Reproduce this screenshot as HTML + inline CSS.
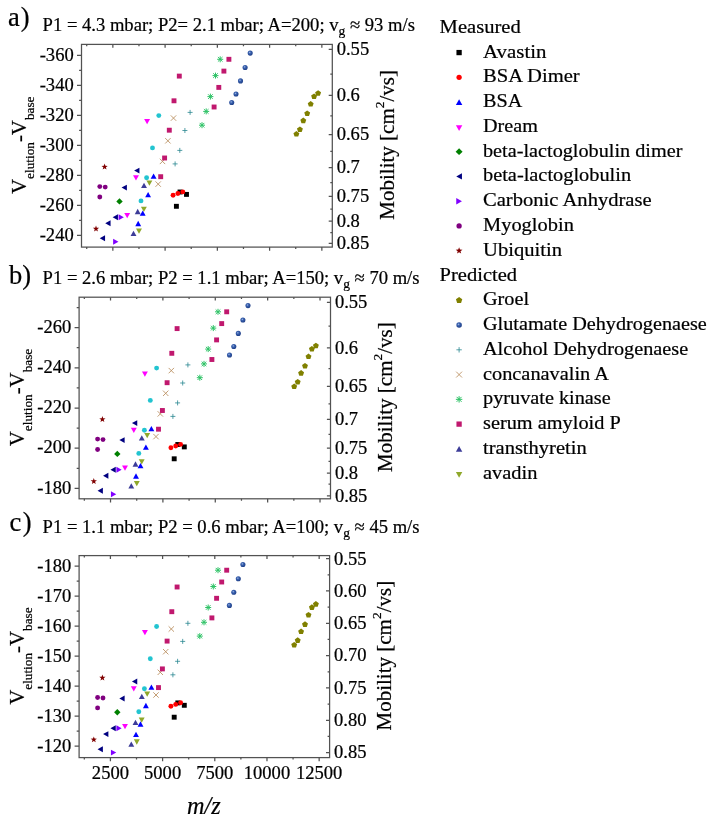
<!DOCTYPE html><html><head><meta charset="utf-8"><style>html,body{margin:0;padding:0;background:#fff;width:714px;height:821px;overflow:hidden}svg{display:block;filter:blur(0.3px)}text{font-family:"Liberation Serif", serif;fill:#000;stroke:#000;stroke-width:0.22px}</style></head><body>
<svg width="714" height="821" viewBox="0 0 714 821">
<defs><radialGradient id="sph" cx="0.4" cy="0.38" r="0.65"><stop offset="0" stop-color="#9fb6e0"/><stop offset="0.35" stop-color="#3a62b0"/><stop offset="1" stop-color="#1c3c84"/></radialGradient></defs>
<rect x="81.5" y="44.4" width="250.80" height="202.70" fill="none" stroke="#525252" stroke-width="1.25"/>
<path d="M77.00 55.40H81.50M77.00 85.40H81.50M77.00 115.40H81.50M77.00 145.40H81.50M77.00 175.40H81.50M77.00 205.40H81.50M77.00 235.40H81.50M79.10 70.40H81.50M79.10 100.40H81.50M79.10 130.40H81.50M79.10 160.40H81.50M79.10 190.40H81.50M79.10 220.40H81.50M328.70 49.40H332.30M328.70 95.40H332.30M328.70 134.50H332.30M328.70 167.50H332.30M328.70 196.30H332.30M328.70 221.10H332.30M328.70 243.40H332.30M330.30 74.20H332.30M330.30 115.80H332.30M330.30 151.40H332.30M330.30 182.60H332.30M330.30 209.10H332.30M330.30 232.50H332.30M86.72 44.40V46.20M86.72 247.10V249.10M112.85 44.40V47.70M112.85 247.10V250.70M138.97 44.40V46.20M138.97 247.10V249.10M165.10 44.40V47.70M165.10 247.10V250.70M191.22 44.40V46.20M191.22 247.10V249.10M217.35 44.40V47.70M217.35 247.10V250.70M243.47 44.40V46.20M243.47 247.10V249.10M269.60 44.40V47.70M269.60 247.10V250.70M295.73 44.40V46.20M295.73 247.10V249.10M321.85 44.40V47.70M321.85 247.10V250.70" stroke="#525252" stroke-width="1.25" fill="none"/>
<text transform="translate(73.70 60.60) scale(1.02 1)" font-size="18.2" text-anchor="end">-360</text>
<text transform="translate(73.70 90.60) scale(1.02 1)" font-size="18.2" text-anchor="end">-340</text>
<text transform="translate(73.70 120.60) scale(1.02 1)" font-size="18.2" text-anchor="end">-320</text>
<text transform="translate(73.70 150.60) scale(1.02 1)" font-size="18.2" text-anchor="end">-300</text>
<text transform="translate(73.70 180.60) scale(1.02 1)" font-size="18.2" text-anchor="end">-280</text>
<text transform="translate(73.70 210.60) scale(1.02 1)" font-size="18.2" text-anchor="end">-260</text>
<text transform="translate(73.70 240.60) scale(1.02 1)" font-size="18.2" text-anchor="end">-240</text>
<text transform="translate(336.70 55.30) scale(1.02 1)" font-size="18.2" text-anchor="start">0.55</text>
<text transform="translate(336.70 101.30) scale(1.02 1)" font-size="18.2" text-anchor="start">0.6</text>
<text transform="translate(336.70 140.40) scale(1.02 1)" font-size="18.2" text-anchor="start">0.65</text>
<text transform="translate(336.70 173.40) scale(1.02 1)" font-size="18.2" text-anchor="start">0.7</text>
<text transform="translate(336.70 202.20) scale(1.02 1)" font-size="18.2" text-anchor="start">0.75</text>
<text transform="translate(336.70 227.00) scale(1.02 1)" font-size="18.2" text-anchor="start">0.8</text>
<text transform="translate(336.70 249.30) scale(1.02 1)" font-size="18.2" text-anchor="start">0.85</text>
<text transform="translate(25.90 145.25) rotate(-90) scale(1.02 1)" font-size="20.5" text-anchor="middle">V<tspan font-size="13" dy="8.2">elution</tspan><tspan dy="-8.2">-V</tspan><tspan font-size="13" dy="8.2">base</tspan></text>
<text transform="translate(393.50 144.85) rotate(-90)" font-size="21" text-anchor="middle">Mobility [cm<tspan font-size="13.5" dy="-10">2</tspan><tspan dy="10">/vs]</tspan></text>
<text x="8.1" y="26.20" font-size="26.5">a<tspan dx="0.9">)</tspan></text>
<text transform="translate(42.6 30.50) scale(1.0 1)" font-size="18.6">P1 = 4.3 mbar; P2= 2.1 mbar; A=200; v<tspan font-size="13.5" dy="4.2">g</tspan><tspan dy="-4.2"> ≈ 93 m/s</tspan></text>
<g>
<circle cx="158.80" cy="115.60" r="2.45" fill="#22c4d0"/>
<circle cx="152.50" cy="147.90" r="2.45" fill="#22c4d0"/>
<circle cx="146.60" cy="177.80" r="2.45" fill="#22c4d0"/>
<circle cx="141.00" cy="200.90" r="2.45" fill="#22c4d0"/>
<polygon points="318.10,90.20 321.05,92.34 319.92,95.81 316.28,95.81 315.15,92.34" fill="#808000"/>
<polygon points="314.10,93.40 317.05,95.54 315.92,99.01 312.28,99.01 311.15,95.54" fill="#808000"/>
<polygon points="310.70,101.00 313.65,103.14 312.52,106.61 308.88,106.61 307.75,103.14" fill="#808000"/>
<polygon points="307.20,110.40 310.15,112.54 309.02,116.01 305.38,116.01 304.25,112.54" fill="#808000"/>
<polygon points="303.30,117.60 306.25,119.74 305.12,123.21 301.48,123.21 300.35,119.74" fill="#808000"/>
<polygon points="299.90,126.40 302.85,128.54 301.72,132.01 298.08,132.01 296.95,128.54" fill="#808000"/>
<polygon points="296.40,131.00 299.35,133.14 298.22,136.61 294.58,136.61 293.45,133.14" fill="#808000"/>
<circle cx="250.20" cy="53.10" r="2.55" fill="url(#sph)"/>
<circle cx="245.10" cy="67.50" r="2.55" fill="url(#sph)"/>
<circle cx="240.50" cy="80.90" r="2.55" fill="url(#sph)"/>
<circle cx="236.00" cy="94.00" r="2.55" fill="url(#sph)"/>
<circle cx="231.70" cy="102.50" r="2.55" fill="url(#sph)"/>
<path d="M187.60 112.40H192.60M190.10 109.90V114.90" stroke="#2a8890" stroke-width="0.8" fill="none"/>
<path d="M182.40 130.50H187.40M184.90 128.00V133.00" stroke="#2a8890" stroke-width="0.8" fill="none"/>
<path d="M177.30 150.40H182.30M179.80 147.90V152.90" stroke="#2a8890" stroke-width="0.8" fill="none"/>
<path d="M172.60 163.90H177.60M175.10 161.40V166.40" stroke="#2a8890" stroke-width="0.8" fill="none"/>
<path d="M170.80 115.40L176.20 120.80M170.80 120.80L176.20 115.40" stroke="#b88c5c" stroke-width="0.85" fill="none"/>
<path d="M165.20 138.10L170.60 143.50M165.20 143.50L170.60 138.10" stroke="#b88c5c" stroke-width="0.85" fill="none"/>
<path d="M159.80 158.70L165.20 164.10M159.80 164.10L165.20 158.70" stroke="#b88c5c" stroke-width="0.85" fill="none"/>
<path d="M155.50 181.40L160.90 186.80M155.50 186.80L160.90 181.40" stroke="#b88c5c" stroke-width="0.85" fill="none"/>
<path d="M217.20 59.30H223.20M217.90 57.00L222.50 61.60M217.90 61.60L222.50 57.00M220.20 56.30V62.30" stroke="#2ec266" stroke-width="1.0" fill="none"/>
<path d="M212.50 75.60H218.50M213.20 73.30L217.80 77.90M213.20 77.90L217.80 73.30M215.50 72.60V78.60" stroke="#2ec266" stroke-width="1.0" fill="none"/>
<path d="M207.40 96.60H213.40M208.10 94.30L212.70 98.90M208.10 98.90L212.70 94.30M210.40 93.60V99.60" stroke="#2ec266" stroke-width="1.0" fill="none"/>
<path d="M203.20 111.40H209.20M203.90 109.10L208.50 113.70M203.90 113.70L208.50 109.10M206.20 108.40V114.40" stroke="#2ec266" stroke-width="1.0" fill="none"/>
<path d="M199.00 125.20H205.00M199.70 122.90L204.30 127.50M199.70 127.50L204.30 122.90M202.00 122.20V128.20" stroke="#2ec266" stroke-width="1.0" fill="none"/>
<rect x="226.45" y="56.85" width="4.90" height="4.90" fill="#c0186e"/>
<rect x="221.45" y="68.65" width="4.90" height="4.90" fill="#c0186e"/>
<rect x="176.85" y="73.65" width="4.90" height="4.90" fill="#c0186e"/>
<rect x="216.35" y="84.95" width="4.90" height="4.90" fill="#c0186e"/>
<rect x="171.55" y="98.35" width="4.90" height="4.90" fill="#c0186e"/>
<rect x="211.65" y="104.55" width="4.90" height="4.90" fill="#c0186e"/>
<rect x="166.85" y="127.75" width="4.90" height="4.90" fill="#c0186e"/>
<rect x="162.15" y="155.55" width="4.90" height="4.90" fill="#c0186e"/>
<rect x="158.25" y="174.25" width="4.90" height="4.90" fill="#c0186e"/>
<polygon points="144.00,182.75 146.95,188.05 141.05,188.05" fill="#3c3c98"/>
<polygon points="137.70,208.85 140.65,214.15 134.75,214.15" fill="#3c3c98"/>
<polygon points="133.50,230.65 136.45,235.95 130.55,235.95" fill="#3c3c98"/>
<polygon points="149.40,185.85 152.35,180.55 146.45,180.55" fill="#8fa82a"/>
<polygon points="143.90,211.95 146.85,206.65 140.95,206.65" fill="#8fa82a"/>
<polygon points="139.00,233.75 141.95,228.45 136.05,228.45" fill="#8fa82a"/>
<rect x="177.55" y="189.55" width="4.90" height="4.90" fill="#000000"/>
<rect x="184.05" y="191.95" width="4.90" height="4.90" fill="#000000"/>
<rect x="173.95" y="203.85" width="4.90" height="4.90" fill="#000000"/>
<circle cx="173.10" cy="195.30" r="2.45" fill="#ff0000"/>
<circle cx="177.90" cy="193.50" r="2.45" fill="#ff0000"/>
<circle cx="182.80" cy="191.90" r="2.45" fill="#ff0000"/>
<polygon points="153.60,173.55 156.55,178.85 150.65,178.85" fill="#0000ff"/>
<polygon points="148.10,191.95 151.05,197.25 145.15,197.25" fill="#0000ff"/>
<polygon points="142.70,210.45 145.65,215.75 139.75,215.75" fill="#0000ff"/>
<polygon points="138.20,220.85 141.15,226.15 135.25,226.15" fill="#0000ff"/>
<polygon points="147.10,124.35 150.05,119.05 144.15,119.05" fill="#ff00ff"/>
<polygon points="136.00,180.55 138.95,175.25 133.05,175.25" fill="#ff00ff"/>
<polygon points="127.20,218.35 130.15,213.05 124.25,213.05" fill="#ff00ff"/>
<polygon points="119.50,198.20 122.70,201.40 119.50,204.60 116.30,201.40" fill="#008000"/>
<polygon points="134.15,170.60 139.45,167.65 139.45,173.55" fill="#000080"/>
<polygon points="121.55,187.60 126.85,184.65 126.85,190.55" fill="#000080"/>
<polygon points="112.65,217.30 117.95,214.35 117.95,220.25" fill="#000080"/>
<polygon points="105.25,223.20 110.55,220.25 110.55,226.15" fill="#000080"/>
<polygon points="99.75,238.30 105.05,235.35 105.05,241.25" fill="#000080"/>
<polygon points="123.85,217.30 118.55,214.35 118.55,220.25" fill="#8000ff"/>
<polygon points="118.45,241.70 113.15,238.75 113.15,244.65" fill="#8000ff"/>
<circle cx="99.80" cy="186.60" r="2.45" fill="#800080"/>
<circle cx="105.20" cy="187.10" r="2.45" fill="#800080"/>
<circle cx="99.80" cy="197.00" r="2.45" fill="#800080"/>
<polygon points="104.60,163.60 105.39,165.81 107.74,165.88 105.88,167.32 106.54,169.57 104.60,168.25 102.66,169.57 103.32,167.32 101.46,165.88 103.81,165.81" fill="#800000"/>
<polygon points="96.00,225.50 96.79,227.71 99.14,227.78 97.28,229.22 97.94,231.47 96.00,230.15 94.06,231.47 94.72,229.22 92.86,227.78 95.21,227.71" fill="#800000"/>
</g>
<rect x="79.1" y="297.2" width="251.40" height="201.60" fill="none" stroke="#525252" stroke-width="1.25"/>
<path d="M74.60 327.60H79.10M74.60 367.80H79.10M74.60 408.00H79.10M74.60 448.20H79.10M74.60 488.40H79.10M76.70 307.50H79.10M76.70 347.70H79.10M76.70 387.90H79.10M76.70 428.10H79.10M76.70 468.30H79.10M326.90 302.30H330.50M326.90 347.80H330.50M326.90 386.30H330.50M326.90 419.30H330.50M326.90 448.10H330.50M326.90 473.20H330.50M326.90 495.80H330.50M328.50 326.20H330.50M328.50 368.60H330.50M328.50 403.90H330.50M328.50 434.40H330.50M328.50 461.30H330.50M328.50 484.00H330.50M84.34 297.20V299.00M84.34 498.80V500.80M110.52 297.20V300.50M110.52 498.80V502.40M136.71 297.20V299.00M136.71 498.80V500.80M162.90 297.20V300.50M162.90 498.80V502.40M189.09 297.20V299.00M189.09 498.80V500.80M215.28 297.20V300.50M215.28 498.80V502.40M241.46 297.20V299.00M241.46 498.80V500.80M267.65 297.20V300.50M267.65 498.80V502.40M293.84 297.20V299.00M293.84 498.80V500.80M320.02 297.20V300.50M320.02 498.80V502.40" stroke="#525252" stroke-width="1.25" fill="none"/>
<text transform="translate(71.30 332.80) scale(1.02 1)" font-size="18.2" text-anchor="end">-260</text>
<text transform="translate(71.30 373.00) scale(1.02 1)" font-size="18.2" text-anchor="end">-240</text>
<text transform="translate(71.30 413.20) scale(1.02 1)" font-size="18.2" text-anchor="end">-220</text>
<text transform="translate(71.30 453.40) scale(1.02 1)" font-size="18.2" text-anchor="end">-200</text>
<text transform="translate(71.30 493.60) scale(1.02 1)" font-size="18.2" text-anchor="end">-180</text>
<text transform="translate(334.90 308.20) scale(1.02 1)" font-size="18.2" text-anchor="start">0.55</text>
<text transform="translate(334.90 353.70) scale(1.02 1)" font-size="18.2" text-anchor="start">0.6</text>
<text transform="translate(334.90 392.20) scale(1.02 1)" font-size="18.2" text-anchor="start">0.65</text>
<text transform="translate(334.90 425.20) scale(1.02 1)" font-size="18.2" text-anchor="start">0.7</text>
<text transform="translate(334.90 454.00) scale(1.02 1)" font-size="18.2" text-anchor="start">0.75</text>
<text transform="translate(334.90 479.10) scale(1.02 1)" font-size="18.2" text-anchor="start">0.8</text>
<text transform="translate(334.90 501.70) scale(1.02 1)" font-size="18.2" text-anchor="start">0.85</text>
<text transform="translate(23.50 397.50) rotate(-90) scale(1.02 1)" font-size="20.5" text-anchor="middle">V<tspan font-size="13" dy="8.2">elution</tspan><tspan dy="-8.2">-V</tspan><tspan font-size="13" dy="8.2">base</tspan></text>
<text transform="translate(391.70 397.10) rotate(-90)" font-size="21" text-anchor="middle">Mobility [cm<tspan font-size="13.5" dy="-10">2</tspan><tspan dy="10">/vs]</tspan></text>
<text x="9.0" y="283.90" font-size="26.5">b<tspan dx="0.0">)</tspan></text>
<text transform="translate(42.6 283.60) scale(1.0 1)" font-size="18.6">P1 = 2.6 mbar; P2 = 1.1 mbar; A=150; v<tspan font-size="13.5" dy="4.2">g</tspan><tspan dy="-4.2"> ≈ 70 m/s</tspan></text>
<g>
<circle cx="156.60" cy="368.10" r="2.45" fill="#22c4d0"/>
<circle cx="150.30" cy="400.40" r="2.45" fill="#22c4d0"/>
<circle cx="144.40" cy="430.30" r="2.45" fill="#22c4d0"/>
<circle cx="138.80" cy="453.40" r="2.45" fill="#22c4d0"/>
<polygon points="315.90,342.70 318.85,344.84 317.72,348.31 314.08,348.31 312.95,344.84" fill="#808000"/>
<polygon points="311.90,345.90 314.85,348.04 313.72,351.51 310.08,351.51 308.95,348.04" fill="#808000"/>
<polygon points="308.50,353.50 311.45,355.64 310.32,359.11 306.68,359.11 305.55,355.64" fill="#808000"/>
<polygon points="305.00,362.90 307.95,365.04 306.82,368.51 303.18,368.51 302.05,365.04" fill="#808000"/>
<polygon points="301.10,370.10 304.05,372.24 302.92,375.71 299.28,375.71 298.15,372.24" fill="#808000"/>
<polygon points="297.70,378.90 300.65,381.04 299.52,384.51 295.88,384.51 294.75,381.04" fill="#808000"/>
<polygon points="294.20,383.50 297.15,385.64 296.02,389.11 292.38,389.11 291.25,385.64" fill="#808000"/>
<circle cx="248.00" cy="305.60" r="2.55" fill="url(#sph)"/>
<circle cx="242.90" cy="320.00" r="2.55" fill="url(#sph)"/>
<circle cx="238.30" cy="333.40" r="2.55" fill="url(#sph)"/>
<circle cx="233.80" cy="346.50" r="2.55" fill="url(#sph)"/>
<circle cx="229.50" cy="355.00" r="2.55" fill="url(#sph)"/>
<path d="M185.40 364.90H190.40M187.90 362.40V367.40" stroke="#2a8890" stroke-width="0.8" fill="none"/>
<path d="M180.20 383.00H185.20M182.70 380.50V385.50" stroke="#2a8890" stroke-width="0.8" fill="none"/>
<path d="M175.10 402.90H180.10M177.60 400.40V405.40" stroke="#2a8890" stroke-width="0.8" fill="none"/>
<path d="M170.40 416.40H175.40M172.90 413.90V418.90" stroke="#2a8890" stroke-width="0.8" fill="none"/>
<path d="M168.60 367.90L174.00 373.30M168.60 373.30L174.00 367.90" stroke="#b88c5c" stroke-width="0.85" fill="none"/>
<path d="M163.00 390.60L168.40 396.00M163.00 396.00L168.40 390.60" stroke="#b88c5c" stroke-width="0.85" fill="none"/>
<path d="M157.60 411.20L163.00 416.60M157.60 416.60L163.00 411.20" stroke="#b88c5c" stroke-width="0.85" fill="none"/>
<path d="M153.30 433.90L158.70 439.30M153.30 439.30L158.70 433.90" stroke="#b88c5c" stroke-width="0.85" fill="none"/>
<path d="M215.00 311.80H221.00M215.70 309.50L220.30 314.10M215.70 314.10L220.30 309.50M218.00 308.80V314.80" stroke="#2ec266" stroke-width="1.0" fill="none"/>
<path d="M210.30 328.10H216.30M211.00 325.80L215.60 330.40M211.00 330.40L215.60 325.80M213.30 325.10V331.10" stroke="#2ec266" stroke-width="1.0" fill="none"/>
<path d="M205.20 349.10H211.20M205.90 346.80L210.50 351.40M205.90 351.40L210.50 346.80M208.20 346.10V352.10" stroke="#2ec266" stroke-width="1.0" fill="none"/>
<path d="M201.00 363.90H207.00M201.70 361.60L206.30 366.20M201.70 366.20L206.30 361.60M204.00 360.90V366.90" stroke="#2ec266" stroke-width="1.0" fill="none"/>
<path d="M196.80 377.70H202.80M197.50 375.40L202.10 380.00M197.50 380.00L202.10 375.40M199.80 374.70V380.70" stroke="#2ec266" stroke-width="1.0" fill="none"/>
<rect x="224.25" y="309.35" width="4.90" height="4.90" fill="#c0186e"/>
<rect x="219.25" y="321.15" width="4.90" height="4.90" fill="#c0186e"/>
<rect x="174.65" y="326.15" width="4.90" height="4.90" fill="#c0186e"/>
<rect x="214.15" y="337.45" width="4.90" height="4.90" fill="#c0186e"/>
<rect x="169.35" y="350.85" width="4.90" height="4.90" fill="#c0186e"/>
<rect x="209.45" y="357.05" width="4.90" height="4.90" fill="#c0186e"/>
<rect x="164.65" y="380.25" width="4.90" height="4.90" fill="#c0186e"/>
<rect x="159.95" y="408.05" width="4.90" height="4.90" fill="#c0186e"/>
<rect x="156.05" y="426.75" width="4.90" height="4.90" fill="#c0186e"/>
<polygon points="141.80,435.25 144.75,440.55 138.85,440.55" fill="#3c3c98"/>
<polygon points="135.50,461.35 138.45,466.65 132.55,466.65" fill="#3c3c98"/>
<polygon points="131.30,483.15 134.25,488.45 128.35,488.45" fill="#3c3c98"/>
<polygon points="147.20,438.35 150.15,433.05 144.25,433.05" fill="#8fa82a"/>
<polygon points="141.70,464.45 144.65,459.15 138.75,459.15" fill="#8fa82a"/>
<polygon points="136.80,486.25 139.75,480.95 133.85,480.95" fill="#8fa82a"/>
<rect x="175.35" y="442.05" width="4.90" height="4.90" fill="#000000"/>
<rect x="181.85" y="444.45" width="4.90" height="4.90" fill="#000000"/>
<rect x="171.75" y="456.35" width="4.90" height="4.90" fill="#000000"/>
<circle cx="170.90" cy="447.80" r="2.45" fill="#ff0000"/>
<circle cx="175.70" cy="446.00" r="2.45" fill="#ff0000"/>
<circle cx="180.60" cy="444.40" r="2.45" fill="#ff0000"/>
<polygon points="151.40,426.05 154.35,431.35 148.45,431.35" fill="#0000ff"/>
<polygon points="145.90,444.45 148.85,449.75 142.95,449.75" fill="#0000ff"/>
<polygon points="140.50,462.95 143.45,468.25 137.55,468.25" fill="#0000ff"/>
<polygon points="136.00,473.35 138.95,478.65 133.05,478.65" fill="#0000ff"/>
<polygon points="144.90,376.85 147.85,371.55 141.95,371.55" fill="#ff00ff"/>
<polygon points="133.80,433.05 136.75,427.75 130.85,427.75" fill="#ff00ff"/>
<polygon points="125.00,470.85 127.95,465.55 122.05,465.55" fill="#ff00ff"/>
<polygon points="117.30,450.70 120.50,453.90 117.30,457.10 114.10,453.90" fill="#008000"/>
<polygon points="131.95,423.10 137.25,420.15 137.25,426.05" fill="#000080"/>
<polygon points="119.35,440.10 124.65,437.15 124.65,443.05" fill="#000080"/>
<polygon points="110.45,469.80 115.75,466.85 115.75,472.75" fill="#000080"/>
<polygon points="103.05,475.70 108.35,472.75 108.35,478.65" fill="#000080"/>
<polygon points="97.55,490.80 102.85,487.85 102.85,493.75" fill="#000080"/>
<polygon points="121.65,469.80 116.35,466.85 116.35,472.75" fill="#8000ff"/>
<polygon points="116.25,494.20 110.95,491.25 110.95,497.15" fill="#8000ff"/>
<circle cx="97.60" cy="439.10" r="2.45" fill="#800080"/>
<circle cx="103.00" cy="439.60" r="2.45" fill="#800080"/>
<circle cx="97.60" cy="449.50" r="2.45" fill="#800080"/>
<polygon points="102.40,416.10 103.19,418.31 105.54,418.38 103.68,419.82 104.34,422.07 102.40,420.75 100.46,422.07 101.12,419.82 99.26,418.38 101.61,418.31" fill="#800000"/>
<polygon points="93.80,478.00 94.59,480.21 96.94,480.28 95.08,481.72 95.74,483.97 93.80,482.65 91.86,483.97 92.52,481.72 90.66,480.28 93.01,480.21" fill="#800000"/>
</g>
<rect x="79.1" y="555.6" width="250.50" height="202.00" fill="none" stroke="#525252" stroke-width="1.25"/>
<path d="M74.60 566.20H79.10M74.60 596.20H79.10M74.60 626.20H79.10M74.60 656.20H79.10M74.60 686.20H79.10M74.60 716.20H79.10M74.60 746.20H79.10M76.70 581.20H79.10M76.70 611.20H79.10M76.70 641.20H79.10M76.70 671.20H79.10M76.70 701.20H79.10M76.70 731.20H79.10M326.00 558.60H329.60M326.00 590.93H329.60M326.00 623.26H329.60M326.00 655.59H329.60M326.00 687.92H329.60M326.00 720.25H329.60M326.00 752.58H329.60M327.60 574.77H329.60M327.60 607.10H329.60M327.60 639.43H329.60M327.60 671.76H329.60M327.60 704.09H329.60M327.60 736.42H329.60M84.32 555.60V557.40M84.32 757.60V759.60M110.41 555.60V558.90M110.41 757.60V761.20M136.51 555.60V557.40M136.51 757.60V759.60M162.60 555.60V558.90M162.60 757.60V761.20M188.69 555.60V557.40M188.69 757.60V759.60M214.79 555.60V558.90M214.79 757.60V761.20M240.88 555.60V557.40M240.88 757.60V759.60M266.98 555.60V558.90M266.98 757.60V761.20M293.07 555.60V557.40M293.07 757.60V759.60M319.16 555.60V558.90M319.16 757.60V761.20" stroke="#525252" stroke-width="1.25" fill="none"/>
<text transform="translate(71.30 572.40) scale(1.02 1)" font-size="18.2" text-anchor="end">-180</text>
<text transform="translate(71.30 602.40) scale(1.02 1)" font-size="18.2" text-anchor="end">-170</text>
<text transform="translate(71.30 632.40) scale(1.02 1)" font-size="18.2" text-anchor="end">-160</text>
<text transform="translate(71.30 662.40) scale(1.02 1)" font-size="18.2" text-anchor="end">-150</text>
<text transform="translate(71.30 692.40) scale(1.02 1)" font-size="18.2" text-anchor="end">-140</text>
<text transform="translate(71.30 722.40) scale(1.02 1)" font-size="18.2" text-anchor="end">-130</text>
<text transform="translate(71.30 752.40) scale(1.02 1)" font-size="18.2" text-anchor="end">-120</text>
<text transform="translate(334.00 564.50) scale(1.02 1)" font-size="18.2" text-anchor="start">0.55</text>
<text transform="translate(334.00 596.83) scale(1.02 1)" font-size="18.2" text-anchor="start">0.60</text>
<text transform="translate(334.00 629.16) scale(1.02 1)" font-size="18.2" text-anchor="start">0.65</text>
<text transform="translate(334.00 661.49) scale(1.02 1)" font-size="18.2" text-anchor="start">0.70</text>
<text transform="translate(334.00 693.82) scale(1.02 1)" font-size="18.2" text-anchor="start">0.75</text>
<text transform="translate(334.00 726.15) scale(1.02 1)" font-size="18.2" text-anchor="start">0.80</text>
<text transform="translate(334.00 758.48) scale(1.02 1)" font-size="18.2" text-anchor="start">0.85</text>
<text transform="translate(23.50 656.10) rotate(-90) scale(1.02 1)" font-size="20.5" text-anchor="middle">V<tspan font-size="13" dy="8.2">elution</tspan><tspan dy="-8.2">-V</tspan><tspan font-size="13" dy="8.2">base</tspan></text>
<text transform="translate(390.80 655.70) rotate(-90)" font-size="21" text-anchor="middle">Mobility [cm<tspan font-size="13.5" dy="-10">2</tspan><tspan dy="10">/vs]</tspan></text>
<text x="9.4" y="530.50" font-size="26.5">c<tspan dx="1.6">)</tspan></text>
<text transform="translate(42.6 532.70) scale(1.0 1)" font-size="18.6">P1 = 1.1 mbar; P2 = 0.6 mbar; A=100; v<tspan font-size="13.5" dy="4.2">g</tspan><tspan dy="-4.2"> ≈ 45 m/s</tspan></text>
<g>
<circle cx="156.60" cy="626.50" r="2.45" fill="#22c4d0"/>
<circle cx="150.30" cy="658.80" r="2.45" fill="#22c4d0"/>
<circle cx="144.40" cy="688.70" r="2.45" fill="#22c4d0"/>
<circle cx="138.80" cy="711.80" r="2.45" fill="#22c4d0"/>
<polygon points="315.90,601.10 318.85,603.24 317.72,606.71 314.08,606.71 312.95,603.24" fill="#808000"/>
<polygon points="311.90,604.30 314.85,606.44 313.72,609.91 310.08,609.91 308.95,606.44" fill="#808000"/>
<polygon points="308.50,611.90 311.45,614.04 310.32,617.51 306.68,617.51 305.55,614.04" fill="#808000"/>
<polygon points="305.00,621.30 307.95,623.44 306.82,626.91 303.18,626.91 302.05,623.44" fill="#808000"/>
<polygon points="301.10,628.50 304.05,630.64 302.92,634.11 299.28,634.11 298.15,630.64" fill="#808000"/>
<polygon points="297.70,637.30 300.65,639.44 299.52,642.91 295.88,642.91 294.75,639.44" fill="#808000"/>
<polygon points="294.20,641.90 297.15,644.04 296.02,647.51 292.38,647.51 291.25,644.04" fill="#808000"/>
<circle cx="242.90" cy="564.50" r="2.55" fill="url(#sph)"/>
<circle cx="238.30" cy="578.80" r="2.55" fill="url(#sph)"/>
<circle cx="233.80" cy="592.30" r="2.55" fill="url(#sph)"/>
<circle cx="229.40" cy="605.40" r="2.55" fill="url(#sph)"/>
<path d="M185.40 623.30H190.40M187.90 620.80V625.80" stroke="#2a8890" stroke-width="0.8" fill="none"/>
<path d="M180.20 641.40H185.20M182.70 638.90V643.90" stroke="#2a8890" stroke-width="0.8" fill="none"/>
<path d="M175.10 661.30H180.10M177.60 658.80V663.80" stroke="#2a8890" stroke-width="0.8" fill="none"/>
<path d="M170.40 674.80H175.40M172.90 672.30V677.30" stroke="#2a8890" stroke-width="0.8" fill="none"/>
<path d="M168.60 626.30L174.00 631.70M168.60 631.70L174.00 626.30" stroke="#b88c5c" stroke-width="0.85" fill="none"/>
<path d="M163.00 649.00L168.40 654.40M163.00 654.40L168.40 649.00" stroke="#b88c5c" stroke-width="0.85" fill="none"/>
<path d="M157.60 669.60L163.00 675.00M157.60 675.00L163.00 669.60" stroke="#b88c5c" stroke-width="0.85" fill="none"/>
<path d="M153.30 692.30L158.70 697.70M153.30 697.70L158.70 692.30" stroke="#b88c5c" stroke-width="0.85" fill="none"/>
<path d="M215.00 570.20H221.00M215.70 567.90L220.30 572.50M215.70 572.50L220.30 567.90M218.00 567.20V573.20" stroke="#2ec266" stroke-width="1.0" fill="none"/>
<path d="M210.30 586.50H216.30M211.00 584.20L215.60 588.80M211.00 588.80L215.60 584.20M213.30 583.50V589.50" stroke="#2ec266" stroke-width="1.0" fill="none"/>
<path d="M205.20 607.50H211.20M205.90 605.20L210.50 609.80M205.90 609.80L210.50 605.20M208.20 604.50V610.50" stroke="#2ec266" stroke-width="1.0" fill="none"/>
<path d="M201.00 622.30H207.00M201.70 620.00L206.30 624.60M201.70 624.60L206.30 620.00M204.00 619.30V625.30" stroke="#2ec266" stroke-width="1.0" fill="none"/>
<path d="M196.80 636.10H202.80M197.50 633.80L202.10 638.40M197.50 638.40L202.10 633.80M199.80 633.10V639.10" stroke="#2ec266" stroke-width="1.0" fill="none"/>
<rect x="224.25" y="567.75" width="4.90" height="4.90" fill="#c0186e"/>
<rect x="219.25" y="579.55" width="4.90" height="4.90" fill="#c0186e"/>
<rect x="174.65" y="584.55" width="4.90" height="4.90" fill="#c0186e"/>
<rect x="214.15" y="595.85" width="4.90" height="4.90" fill="#c0186e"/>
<rect x="169.35" y="609.25" width="4.90" height="4.90" fill="#c0186e"/>
<rect x="209.45" y="615.45" width="4.90" height="4.90" fill="#c0186e"/>
<rect x="164.65" y="638.65" width="4.90" height="4.90" fill="#c0186e"/>
<rect x="159.95" y="666.45" width="4.90" height="4.90" fill="#c0186e"/>
<rect x="156.05" y="685.15" width="4.90" height="4.90" fill="#c0186e"/>
<polygon points="141.80,693.65 144.75,698.95 138.85,698.95" fill="#3c3c98"/>
<polygon points="135.50,719.75 138.45,725.05 132.55,725.05" fill="#3c3c98"/>
<polygon points="131.30,741.55 134.25,746.85 128.35,746.85" fill="#3c3c98"/>
<polygon points="147.20,696.75 150.15,691.45 144.25,691.45" fill="#8fa82a"/>
<polygon points="141.70,722.85 144.65,717.55 138.75,717.55" fill="#8fa82a"/>
<polygon points="136.80,744.65 139.75,739.35 133.85,739.35" fill="#8fa82a"/>
<rect x="175.35" y="700.45" width="4.90" height="4.90" fill="#000000"/>
<rect x="181.85" y="702.85" width="4.90" height="4.90" fill="#000000"/>
<rect x="171.75" y="714.75" width="4.90" height="4.90" fill="#000000"/>
<circle cx="170.90" cy="706.20" r="2.45" fill="#ff0000"/>
<circle cx="175.70" cy="704.40" r="2.45" fill="#ff0000"/>
<circle cx="180.60" cy="702.80" r="2.45" fill="#ff0000"/>
<polygon points="151.40,684.45 154.35,689.75 148.45,689.75" fill="#0000ff"/>
<polygon points="145.90,702.85 148.85,708.15 142.95,708.15" fill="#0000ff"/>
<polygon points="140.50,721.35 143.45,726.65 137.55,726.65" fill="#0000ff"/>
<polygon points="136.00,731.75 138.95,737.05 133.05,737.05" fill="#0000ff"/>
<polygon points="144.90,635.25 147.85,629.95 141.95,629.95" fill="#ff00ff"/>
<polygon points="133.80,691.45 136.75,686.15 130.85,686.15" fill="#ff00ff"/>
<polygon points="125.00,729.25 127.95,723.95 122.05,723.95" fill="#ff00ff"/>
<polygon points="117.30,709.10 120.50,712.30 117.30,715.50 114.10,712.30" fill="#008000"/>
<polygon points="131.95,681.50 137.25,678.55 137.25,684.45" fill="#000080"/>
<polygon points="119.35,698.50 124.65,695.55 124.65,701.45" fill="#000080"/>
<polygon points="110.45,728.20 115.75,725.25 115.75,731.15" fill="#000080"/>
<polygon points="103.05,734.10 108.35,731.15 108.35,737.05" fill="#000080"/>
<polygon points="97.55,749.20 102.85,746.25 102.85,752.15" fill="#000080"/>
<polygon points="121.65,728.20 116.35,725.25 116.35,731.15" fill="#8000ff"/>
<polygon points="116.25,752.60 110.95,749.65 110.95,755.55" fill="#8000ff"/>
<circle cx="97.60" cy="697.50" r="2.45" fill="#800080"/>
<circle cx="103.00" cy="698.00" r="2.45" fill="#800080"/>
<circle cx="97.60" cy="707.90" r="2.45" fill="#800080"/>
<polygon points="102.40,674.50 103.19,676.71 105.54,676.78 103.68,678.22 104.34,680.47 102.40,679.15 100.46,680.47 101.12,678.22 99.26,676.78 101.61,676.71" fill="#800000"/>
<polygon points="93.80,736.40 94.59,738.61 96.94,738.68 95.08,740.12 95.74,742.37 93.80,741.05 91.86,742.37 92.52,740.12 90.66,738.68 93.01,738.61" fill="#800000"/>
</g>
<text transform="translate(110.41 779.00) scale(1.02 1)" font-size="18.2" text-anchor="middle">2500</text>
<text transform="translate(162.60 779.00) scale(1.02 1)" font-size="18.2" text-anchor="middle">5000</text>
<text transform="translate(214.79 779.00) scale(1.02 1)" font-size="18.2" text-anchor="middle">7500</text>
<text transform="translate(266.98 779.00) scale(1.02 1)" font-size="18.2" text-anchor="middle">10000</text>
<text transform="translate(319.16 779.00) scale(1.02 1)" font-size="18.2" text-anchor="middle">12500</text>
<text transform="translate(203.80 813.80) scale(0.97 1)" font-size="25" text-anchor="middle" font-style="italic">m/z</text>
<text transform="translate(439.60 32.80) scale(1.0676 1)" font-size="19.3" text-anchor="start">Measured</text>
<rect x="456.45" y="49.92" width="5.29" height="5.29" fill="#000000"/>
<text transform="translate(483.00 57.57) scale(1.0825 1)" font-size="19.3" text-anchor="start">Avastin</text>
<circle cx="459.10" cy="77.34" r="2.65" fill="#ff0000"/>
<text transform="translate(483.00 82.34) scale(1.0663 1)" font-size="19.3" text-anchor="start">BSA Dimer</text>
<polygon points="459.10,99.25 462.29,104.97 455.91,104.97" fill="#0000ff"/>
<text transform="translate(483.00 107.11) scale(1.0444 1)" font-size="19.3" text-anchor="start">BSA</text>
<polygon points="459.10,131.04 462.29,125.31 455.91,125.31" fill="#ff00ff"/>
<text transform="translate(483.00 131.88) scale(1.0451 1)" font-size="19.3" text-anchor="start">Dream</text>
<polygon points="459.10,148.19 462.56,151.65 459.10,155.11 455.64,151.65" fill="#008000"/>
<text transform="translate(483.00 156.65) scale(1.0487 1)" font-size="19.3" text-anchor="start">beta-lactoglobulin dimer</text>
<polygon points="456.24,176.42 461.96,173.23 461.96,179.61" fill="#000080"/>
<text transform="translate(483.00 181.42) scale(1.0554 1)" font-size="19.3" text-anchor="start">beta-lactoglobulin</text>
<polygon points="461.96,201.19 456.24,198.00 456.24,204.38" fill="#8000ff"/>
<text transform="translate(483.00 206.19) scale(1.0667 1)" font-size="19.3" text-anchor="start">Carbonic Anhydrase</text>
<circle cx="459.10" cy="225.96" r="2.65" fill="#800080"/>
<text transform="translate(483.00 230.96) scale(1.0595 1)" font-size="19.3" text-anchor="start">Myoglobin</text>
<polygon points="459.10,247.17 459.96,249.55 462.49,249.63 460.49,251.18 461.19,253.61 459.10,252.19 457.01,253.61 457.71,251.18 455.71,249.63 458.24,249.55" fill="#800000"/>
<text transform="translate(483.00 255.73) scale(1.0681 1)" font-size="19.3" text-anchor="start">Ubiquitin</text>
<text transform="translate(439.60 280.50) scale(1.0634 1)" font-size="19.3" text-anchor="start">Predicted</text>
<polygon points="459.10,296.92 462.28,299.24 461.07,302.98 457.13,302.98 455.92,299.24" fill="#808000"/>
<text transform="translate(483.00 305.27) scale(1.05 1)" font-size="19.3" text-anchor="start">Groel</text>
<circle cx="459.10" cy="325.04" r="2.75" fill="url(#sph)"/>
<text transform="translate(483.00 330.04) scale(1.0472 1)" font-size="19.3" text-anchor="start">Glutamate Dehydrogenaese</text>
<path d="M456.40 349.81H461.80M459.10 347.11V352.51" stroke="#2a8890" stroke-width="0.8" fill="none"/>
<text transform="translate(483.00 354.81) scale(1.0495 1)" font-size="19.3" text-anchor="start">Alcohol Dehydrogenaese</text>
<path d="M456.18 371.66L462.02 377.50M456.18 377.50L462.02 371.66" stroke="#b88c5c" stroke-width="0.85" fill="none"/>
<text transform="translate(483.00 379.58) scale(1.0542 1)" font-size="19.3" text-anchor="start">concanavalin A</text>
<path d="M455.86 399.35H462.34M456.62 396.87L461.58 401.83M456.62 401.83L461.58 396.87M459.10 396.11V402.59" stroke="#2ec266" stroke-width="1.0" fill="none"/>
<text transform="translate(483.00 404.35) scale(1.0508 1)" font-size="19.3" text-anchor="start">pyruvate kinase</text>
<rect x="456.45" y="421.47" width="5.29" height="5.29" fill="#c0186e"/>
<text transform="translate(483.00 429.12) scale(1.0535 1)" font-size="19.3" text-anchor="start">serum amyloid P</text>
<polygon points="459.10,446.03 462.29,451.75 455.91,451.75" fill="#3c3c98"/>
<text transform="translate(483.00 453.89) scale(1.0635 1)" font-size="19.3" text-anchor="start">transthyretin</text>
<polygon points="459.10,477.82 462.29,472.09 455.91,472.09" fill="#8fa82a"/>
<text transform="translate(483.00 478.66) scale(1.06 1)" font-size="19.3" text-anchor="start">avadin</text>
</svg></body></html>
